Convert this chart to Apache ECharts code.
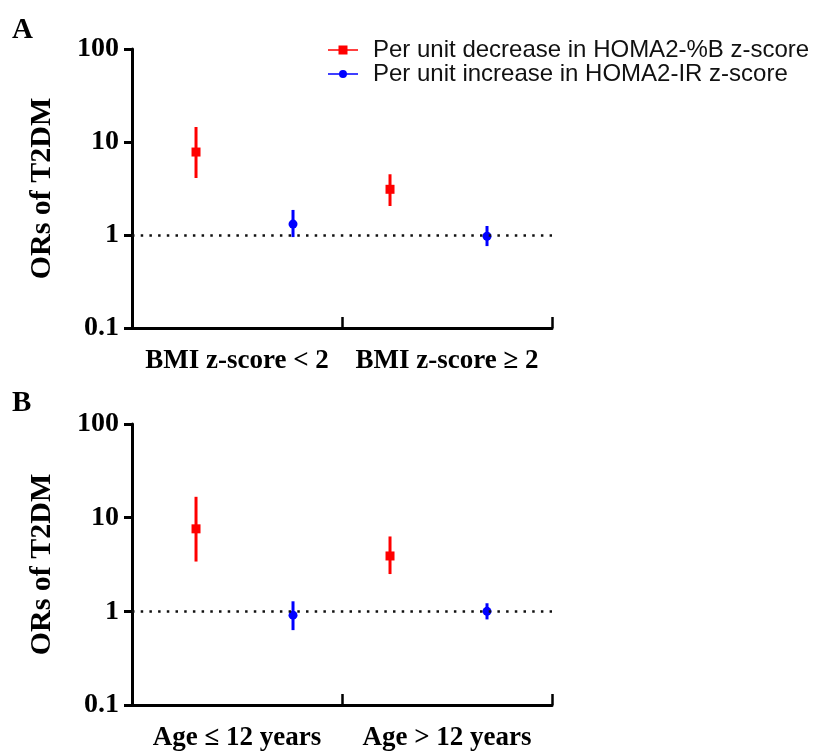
<!DOCTYPE html>
<html>
<head>
<meta charset="utf-8">
<script src="https://cdn.jsdelivr.net/npm/echarts@6/dist/echarts.min.js"></script>
<style>
  html, body { margin: 0; padding: 0; background: #fff; }
  #main { width: 819px; height: 751px; }
</style>
</head>
<body>
<div id="main"></div>
<script>
// categories of the two panels
var groupsA = ['BMI z-score < 2', 'BMI z-score \u2265 2'];
var groupsB = ['Age \u2264 12 years', 'Age > 12 years'];
var yTicks = [0.1, 1, 10, 100];

var nameDec = 'Per unit decrease in HOMA2-%B z-score';
var nameInc = 'Per unit increase in HOMA2-IR z-score';

// panel A: OR, lower CI, upper CI (one value per group)
var decOrA = [7.8, 3.1];
var decLoA = [4.1, 2.05];
var decHiA = [14.5, 4.5];
var incOrA = [1.31, 0.97];
var incLoA = [0.95, 0.76];
var incHiA = [1.86, 1.25];

// panel B
var decOrB = [7.6, 3.9];
var decLoB = [3.4, 2.5];
var decHiB = [16.7, 6.3];
var incOrB = [0.91, 1.0];
var incLoB = [0.63, 0.82];
var incHiB = [1.28, 1.22];

var RED = '#ff0000';
var BLUE = '#0000ff';
var SERIF = '"Liberation Serif", "Times New Roman", serif';

var myChart = echarts.init(document.getElementById('main'));

// x position inside the hidden value axis: group * 2 + series offset
function pts(vals, off) {
  return vals.map(function (v, i) { return [i * 2 + off, v]; });
}
function bars(lo, hi, off) {
  return lo.map(function (v, i) { return [i * 2 + off, v, hi[i]]; });
}

function errSeries(name, data, color, gi) {
  return {
    name: name,
    type: 'custom',
    xAxisIndex: gi * 2 + 1,
    yAxisIndex: gi,
    encode: { x: 0, y: [1, 2] },
    data: data,
    z: 2,
    renderItem: function (params, api) {
      var p1 = api.coord([api.value(0), api.value(1)]);
      var p2 = api.coord([api.value(0), api.value(2)]);
      return {
        type: 'line',
        shape: { x1: p1[0], y1: p1[1], x2: p2[0], y2: p2[1] },
        style: { stroke: color, lineWidth: 3 }
      };
    }
  };
}

function pointSeries(name, data, color, symbol, size, gi, withRef) {
  var s = {
    name: name,
    type: 'scatter',
    xAxisIndex: gi * 2 + 1,
    yAxisIndex: gi,
    symbol: symbol,
    symbolSize: size,
    itemStyle: { color: color, opacity: 1 },
    data: data,
    z: 3
  };
  if (withRef) {
    s.markLine = {
      silent: true,
      symbol: ['none', 'none'],
      label: { show: false },
      lineStyle: { color: '#111', width: 2.5, type: [2.5, 6.2] },
      data: [{ yAxis: 1 }]
    };
  }
  return s;
}

function catAxis(groups, gi) {
  return {
    type: 'category',
    gridIndex: gi,
    position: 'bottom',
    data: groups,
    boundaryGap: true,
    z: 5,
    axisLine: { show: true, onZero: false, lineStyle: { color: '#000', width: 3 } },
    axisTick: {
      show: true, inside: true, interval: 0, alignWithLabel: false,
      length: 11, lineStyle: { color: '#000', width: 2.5 }
    },
    axisLabel: {
      interval: 0, hideOverlap: false,
      color: '#000', fontFamily: SERIF, fontWeight: 'bold', fontSize: 27, margin: 20
    }
  };
}

function valAxis(gi) {
  return { type: 'value', gridIndex: gi, position: 'top', min: -0.66, max: 3.67, show: false };
}

function logAxis(gi) {
  return {
    type: 'log',
    logBase: 10,
    gridIndex: gi,
    min: yTicks[0],
    max: yTicks[yTicks.length - 1],
    name: 'ORs of T2DM',
    nameLocation: 'middle',
    nameGap: 75,
    nameMoveOverlap: false,
    nameTextStyle: { color: '#000', fontFamily: SERIF, fontWeight: 'bold', fontSize: 30 },
    axisLine: { show: true, onZero: false, lineStyle: { color: '#000', width: 3 } },
    axisTick: { show: true, length: 8, lineStyle: { color: '#000', width: 3 } },
    splitLine: { show: false },
    minorTick: { show: false },
    axisLabel: {
      color: '#000', fontFamily: SERIF, fontWeight: 'bold', fontSize: 28, margin: 13,
      formatter: function (v) { return String(+v.toPrecision(3)); }
    }
  };
}

var lineSq = 'path://M0,3.8 L30,3.8 L30,5.2 L0,5.2 Z M10.5,0 L19.5,0 L19.5,9 L10.5,9 Z';
var lineDot = 'path://M0,3.8 L30,3.8 L30,5.2 L0,5.2 Z M15,0.5 A4,4 0 1,1 14.99,0.5 Z';

var option = {
  animation: false,
  backgroundColor: '#fff',
  grid: [
    { left: 132, right: 267, top: 49, height: 279, outerBoundsMode: 'none', containLabel: false },
    { left: 132, right: 267, top: 424, height: 281, outerBoundsMode: 'none', containLabel: false }
  ],
  legend: {
    orient: 'vertical',
    left: 323,
    top: 33,
    itemWidth: 30,
    itemHeight: 9,
    itemGap: 0,
    selectedMode: false,
    textStyle: {
      color: '#111', fontFamily: '"Liberation Sans", Arial, sans-serif',
      fontSize: 24, lineHeight: 24, padding: [0, 0, 0, 10]
    },
    data: [
      { name: nameDec, icon: lineSq, itemStyle: { color: RED } },
      { name: nameInc, icon: lineDot, itemStyle: { color: BLUE } }
    ]
  },
  graphic: [
    { type: 'text', left: 12, top: 16, style: { text: 'A', font: 'bold 29px ' + SERIF, fill: '#000' } },
    { type: 'text', left: 12, top: 389, style: { text: 'B', font: 'bold 29px ' + SERIF, fill: '#000' } }
  ],
  xAxis: [catAxis(groupsA, 0), valAxis(0), catAxis(groupsB, 1), valAxis(1)],
  yAxis: [logAxis(0), logAxis(1)],
  series: [
    errSeries(nameDec, bars(decLoA, decHiA, 0), RED, 0),
    errSeries(nameInc, bars(incLoA, incHiA, 1), BLUE, 0),
    pointSeries(nameDec, pts(decOrA, 0), RED, 'rect', 9, 0, true),
    pointSeries(nameInc, pts(incOrA, 1), BLUE, 'circle', 9, 0, false),
    errSeries(nameDec, bars(decLoB, decHiB, 0), RED, 1),
    errSeries(nameInc, bars(incLoB, incHiB, 1), BLUE, 1),
    pointSeries(nameDec, pts(decOrB, 0), RED, 'rect', 9, 1, true),
    pointSeries(nameInc, pts(incOrB, 1), BLUE, 'circle', 9, 1, false)
  ]
};

myChart.setOption(option);
</script>
</body>
</html>
